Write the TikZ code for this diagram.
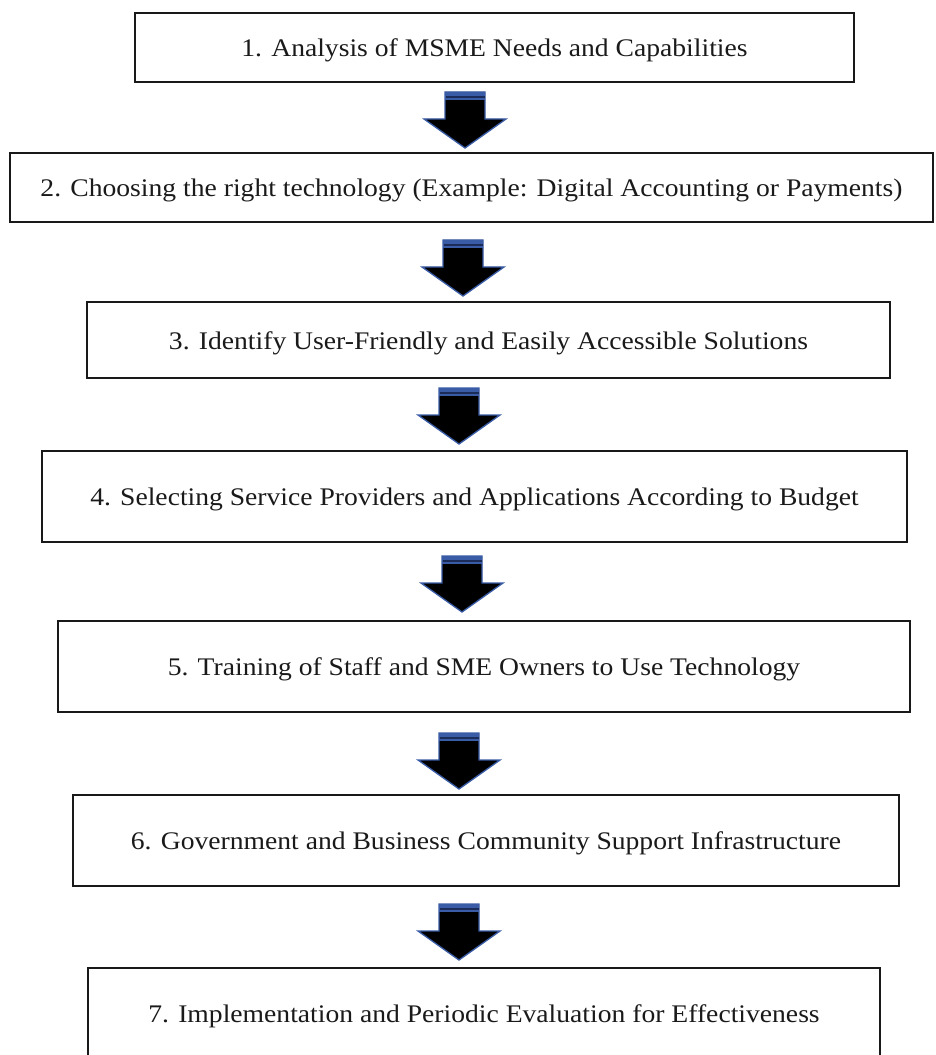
\documentclass[tikz,border=0pt]{standalone}
\usepackage{fontspec}
\setmainfont{Liberation Serif}[FakeStretch=1.09]
\usetikzlibrary{calc}

\definecolor{arrowblue}{HTML}{3A5CA6}
\definecolor{arrowdark}{HTML}{1C2C58}
\definecolor{textgray}{HTML}{1A1A1A}

\tikzset{
    stepbox/.style={draw=black!90, line width=1.5pt, fill=white, inner sep=0pt,
        text=textgray, font=\fontsize{19}{22}\selectfont},
}

\begin{document}
\begin{tikzpicture}[x=0.75pt, y=-0.75pt, line join=miter]
    \clip (0,0) rectangle (935,1055);
    \fill[white] (0,0) rectangle (935,1055);

    % process boxes: left/top/right/bottom
    \foreach \i/\l/\t/\r/\b/\txt in {
        1/135/13/854/82/{1. Analysis of MSME Needs and Capabilities},
        2/10/153/933/222/{2. Choosing the right technology (Example: Digital Accounting or Payments)},
        3/87/302/890/378/{3. Identify User-Friendly and Easily Accessible Solutions},
        4/42/451/907/542/{4. Selecting Service Providers and Applications According to Budget},
        5/58/621/910/712/{5. Training of Staff and SME Owners to Use Technology},
        6/73/795/899/886/{6. Government and Business Community Support Infrastructure},
        7/88/968/880/1059/{7. Implementation and Periodic Evaluation for Effectiveness}}
    {
        \node[stepbox, minimum width={(\r-\l)*0.75pt}, minimum height={(\b-\t)*0.75pt}]
            (b\i) at ({(\l+\r)/2},{(\t+\b)/2}) {};
        \node[text=textgray, font=\fontsize{19}{22}\selectfont] at ($(b\i.center)+(0,3)$) {\txt};
    }

    % block arrows between the boxes: centre x / top y
    \foreach \x/\y [count=\n] in {465/92, 463/240, 459/388, 462/556, 459/733, 459/904}
    {
        \coordinate (a\n) at (\x,\y);
        \filldraw[fill=black, draw=arrowblue, line width=1pt]
            ($(a\n)+(-20,0)$) -- ($(a\n)+(20,0)$) -- ($(a\n)+(20,27)$) -- ($(a\n)+(41,27)$)
            -- ($(a\n)+(0,56)$) -- ($(a\n)+(-41,27)$) -- ($(a\n)+(-20,27)$) -- cycle;
        \fill[arrowblue] ($(a\n)+(-20,0)$) rectangle ($(a\n)+(20,8)$);
        \draw[arrowdark, line width=1pt] ($(a\n)+(-19.5,5)$) -- ($(a\n)+(19.5,5)$);
    }
\end{tikzpicture}
\end{document}
